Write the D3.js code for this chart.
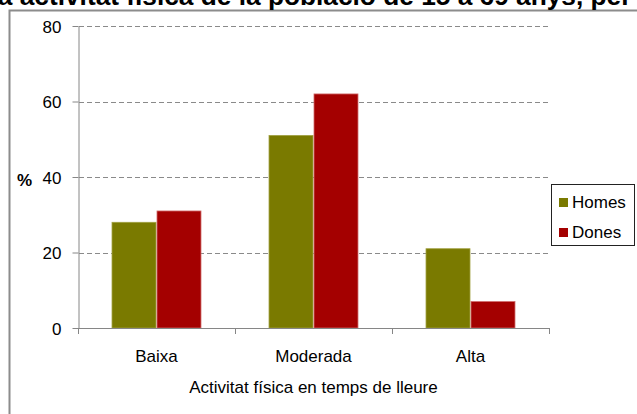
<!DOCTYPE html>
<html>
<head>
<meta charset="utf-8">
<script src="https://cdn.jsdelivr.net/npm/d3@7"></script>
<style>
  html, body { margin: 0; padding: 0; background: #fff; }
  svg { display: block; font-family: Arial, "Liberation Sans", sans-serif; }
</style>
</head>
<body>
<svg id="chart" width="637" height="414"></svg>
<script>
const categories = ["Baixa", "Moderada", "Alta"];
const series = ["Homes", "Dones"];
const homesValues = [28, 51, 21];
const donesValues = [31, 62, 7];
const yTicks = [0, 20, 40, 60, 80];
const colors = ["#7a7a00", "#a40000"];
const strokeColors = ["#a0a040", "#d06a6a"];
const titleText = "Distribució segons la activitat física de la població de 15 a 69 anys, per sexe";
const titleVisibleStart = "Distribució segons l";
const titleVisibleEnd = "Distribució segons la activitat física de la població de 15 a 69 anys, per";
const xTitle = "Activitat física en temps de lleure";
const yTitle = "%";

const svg = d3.select("#chart");
const values = [homesValues, donesValues];

// outer chart frame (extends beyond the viewport)
svg.append("rect")
  .attr("x", 9.5).attr("y", 10.5)
  .attr("width", 800).attr("height", 600)
  .attr("fill", "none").attr("stroke", "#8c8c8c").attr("stroke-width", 2);

// title (cut at the top)
const title = svg.append("text")
  .attr("font-weight", "bold")
  .attr("font-size", 20)
  .attr("y", 5)
  .attr("fill", "#000")
  .text(titleVisibleEnd);
const wEnd = title.node().getComputedTextLength();
const tmp = svg.append("text").attr("font-weight", "bold").attr("font-size", 20).text(titleVisibleStart);
const wStart = tmp.node().getComputedTextLength();
tmp.remove();
// scale so visible part spans approx 0..632
const scaleF = 634 / (wEnd - wStart);
const fs = 20 * scaleF;
title.attr("font-size", fs).text(titleText)
  .attr("x", 632 - wEnd * scaleF);

const plotL = 78, plotR = 549, plotT = 26, plotB = 328;

const y = d3.scaleLinear().domain([0, 80]).range([plotB, plotT]);
const x = d3.scaleBand().domain(categories).range([plotL, plotR]).padding(0);
const xs = d3.scaleBand().domain(series).range([0, x.bandwidth()]).paddingInner(0).paddingOuter(0.745);

// gridlines
svg.append("g").selectAll("line")
  .data(yTicks.filter(d => d > 0))
  .join("line")
  .attr("x1", plotL + 1).attr("x2", plotR)
  .attr("y1", d => Math.round(y(d)) + 0.5).attr("y2", d => Math.round(y(d)) + 0.5)
  .attr("stroke", "#8a8a8a").attr("stroke-width", 1)
  .attr("stroke-dasharray", "5,3");

// bars
const groups = svg.append("g").selectAll("g")
  .data(categories)
  .join("g")
  .attr("transform", d => `translate(${x(d)},0)`);
groups.selectAll("rect")
  .data((c, ci) => series.map((s, si) => ({ s, si, v: values[si][ci] })))
  .join("rect")
  .attr("x", d => xs(d.s) + 0.5)
  .attr("width", xs.bandwidth() - 1)
  .attr("y", d => y(d.v))
  .attr("height", d => plotB - y(d.v))
  .attr("fill", d => colors[d.si])
  .attr("stroke", d => strokeColors[d.si])
  .attr("stroke-width", 0.8);

// y axis
const yAxis = svg.append("g")
  .attr("transform", `translate(${plotL + 0.5},0)`)
  .call(d3.axisLeft(y).tickValues(yTicks).tickSize(6).tickPadding(11).tickSizeOuter(0));
yAxis.select(".domain").attr("stroke", "#868686");
yAxis.selectAll(".tick line").attr("stroke", "#868686");
yAxis.selectAll(".tick text").attr("font-size", 17).attr("fill", "#000")
  .attr("font-family", "Arial, 'Liberation Sans', sans-serif").attr("dy", "0.36em");

// x axis
const xAxisG = svg.append("g");
xAxisG.append("line")
  .attr("x1", plotL).attr("x2", plotR)
  .attr("y1", plotB + 0.5).attr("y2", plotB + 0.5)
  .attr("stroke", "#868686");
const bounds = categories.map(c => x(c)).concat([x(categories[categories.length - 1]) + x.bandwidth()]);
xAxisG.selectAll("line.tick")
  .data(bounds)
  .join("line")
  .attr("class", "tick")
  .attr("x1", d => Math.round(d) + 0.5).attr("x2", d => Math.round(d) + 0.5)
  .attr("y1", plotB).attr("y2", plotB + 6)
  .attr("stroke", "#868686");
xAxisG.selectAll("text")
  .data(categories)
  .join("text")
  .attr("x", d => x(d) + x.bandwidth() / 2)
  .attr("y", 362)
  .attr("text-anchor", "middle")
  .attr("font-size", 17)
  .text(d => d);

// axis titles
svg.append("text")
  .attr("x", (plotL + plotR) / 2)
  .attr("y", 393)
  .attr("text-anchor", "middle")
  .attr("font-size", 17)
  .text(xTitle);
svg.append("text")
  .attr("x", 17)
  .attr("y", 186)
  .attr("font-size", 17)
  .attr("font-weight", "bold")
  .text(yTitle);

// legend
const legend = svg.append("g");
legend.append("rect")
  .attr("x", 551.5).attr("y", 184.5)
  .attr("width", 83).attr("height", 61)
  .attr("fill", "#fff").attr("stroke", "#222").attr("stroke-width", 1);
const li = legend.selectAll("g.item")
  .data(series)
  .join("g")
  .attr("class", "item")
  .attr("transform", (d, i) => `translate(0,${i * 30})`);
li.append("rect")
  .attr("x", 559).attr("y", 198)
  .attr("width", 9).attr("height", 9)
  .attr("fill", (d, i) => colors[i]);
li.append("text")
  .attr("x", 572).attr("y", 207.5)
  .attr("font-size", 17)
  .text(d => d);
</script>
</body>
</html>
